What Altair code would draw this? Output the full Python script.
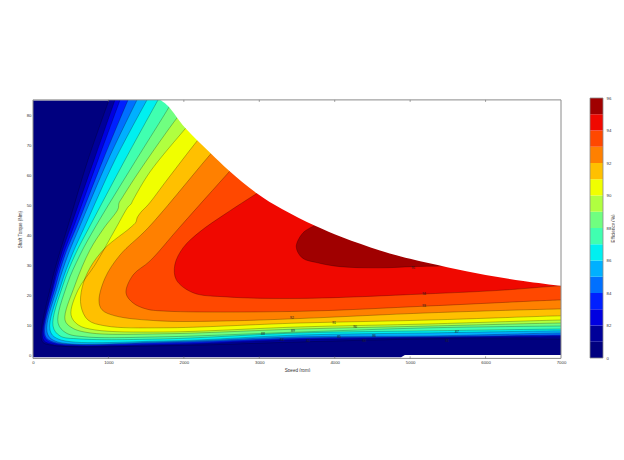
import altair as alt
import pandas as pd

# contour levels, outermost first: (fill colour, speed rpm, torque Nm)
COLORS = ["#000099", "#0000e0", "#0020ff", "#0070ff", "#00b0ff", "#00f0f0", "#40ffb0", "#70ff80",
          "#b0ff40", "#f0ff00", "#ffc000", "#ff8000", "#ff4800", "#f00800", "#a00000"]
S1 = [1008, 729, 464, 345, 239, 119, 225, 1724, 3540, 5264, 7000]
T1 = [85.2, 65.2, 43.2, 33.5, 23.5, 4.8, 3.5, 3.2, 4.5, 5.5, 5.5]
S2 = [1087, 809, 504, 371, 265, 133, 239, 1724, 3540, 5264, 7000]
T2 = [85.2, 65.2, 43.2, 33.5, 23.5, 5.5, 3.8, 3.5, 5.2, 5.8, 6.2]
S3 = [1154, 862, 544, 398, 278, 146, 252, 1724, 3540, 5264, 7000]
T3 = [85.2, 65.2, 43.2, 33.5, 23.5, 6.5, 4.2, 3.8, 5.5, 6.0, 6.5]
S4 = [1260, 928, 583, 424, 305, 159, 265, 1724, 3540, 5264, 7000]
T4 = [85.2, 65.2, 43.2, 33.5, 23.5, 6.8, 4.5, 4.2, 5.8, 6.2, 6.8]
S5 = [1379, 995, 623, 464, 332, 186, 292, 1724, 3540, 5264, 7000]
T5 = [85.2, 65.2, 43.2, 33.5, 23.5, 7.8, 4.8, 4.5, 6.2, 6.5, 7.5]
S6 = [1512, 1087, 690, 517, 371, 225, 332, 1724, 3540, 5264, 7000]
T6 = [85.2, 65.2, 43.2, 33.5, 23.5, 8.5, 5.5, 4.8, 6.8, 7.5, 8.2]
S7 = [1658, 1220, 756, 557, 398, 265, 358, 623, 1724, 3540, 5264, 7000]
T7 = [85.2, 65.2, 43.2, 33.5, 23.5, 9.8, 6.5, 5.5, 5.5, 7.5, 8.2, 8.8]
S8 = [1856, 1803, 1326, 835, 623, 451, 332, 438, 690, 1724, 3540, 5264, 7000]
T8 = [85.2, 82.8, 63.5, 43.2, 33.5, 23.5, 10.8, 7.5, 6.2, 6.2, 7.8, 9.2, 9.8]
S9 = [2042, 1909, 1419, 1180, 1140, 1127, 941, 756, 557, 424, 517, 756, 1724, 3540, 5264, 7000]
T9 = [83.2, 79.2, 61.8, 52.5, 50.8, 48.8, 42.5, 35.2, 23.5, 11.8, 9.2, 7.5, 7.2, 8.8, 9.8, 10.8]
S10 = [2161, 2029, 1551, 1326, 1300, 1260, 1100, 822, 597, 504, 597, 822, 1724, 3540, 5264, 7000]
T10 = [79.8, 75.9, 61.2, 51.8, 50.5, 49.5, 42.5, 30.2, 21.8, 13.5, 10.2, 8.5, 7.8, 9.5, 10.5, 11.8]
S11 = [2307, 2175, 1776, 1525, 1432, 1379, 1366, 1286, 955, 756, 650, 636, 729, 968, 1724, 3540, 5264, 7000]
T11 = [75.5, 71.5, 58.5, 50.2, 47.8, 45.8, 44.5, 42.5, 35.8, 29.2, 22.5, 16.5, 11.8, 9.8, 9.2, 10.8, 11.8, 13.2]
S12 = [2480, 2347, 1525, 1154, 955, 875, 915, 1087, 1684, 2572, 3540, 5264, 7000]
T12 = [70.5, 66.9, 42.5, 33.5, 25.8, 18.2, 15.2, 13.2, 11.5, 11.5, 12.3, 14.2, 15.5]
S13 = [2745, 2600, 1936, 1551, 1326, 1233, 1326, 1498, 1724, 3540, 5264, 7000]
T13 = [65.2, 61.2, 42.5, 31.5, 26.8, 20.8, 17.5, 15.5, 14.8, 14.7, 16.5, 18.5]
S14 = [3100, 2980, 2550, 2210, 1990, 1880, 1900, 2120, 2570, 3540, 5200, 6190, 7000]
T14 = [56.0, 54.2, 47.2, 41.2, 35.9, 30.2, 25.2, 20.9, 19.5, 19.0, 20.5, 21.7, 23.2]
S15 = [3800, 3740, 3580, 3490, 3570, 3770, 4070, 4600, 5040, 5490, 5700]
T15 = [45.0, 43.5, 40.9, 36.2, 32.5, 30.9, 29.6, 29.2, 29.6, 29.9, 30.3]
LEVELS = [(S1, T1), (S2, T2), (S3, T3), (S4, T4), (S5, T5), (S6, T6), (S7, T7), (S8, T8),
          (S9, T9), (S10, T10), (S11, T11), (S12, T12), (S13, T13), (S14, T14), (S15, T15)]

# upper limit of the operating region
ENV_S = [1690, 1790, 2016, 2348, 2600, 2971, 3300, 3740, 4100, 4600, 5000, 5490, 6000, 6500, 7000]
ENV_T = [85.2, 83.2, 75.9, 67.6, 61.6, 54.0, 48.8, 43.2, 39.4, 35.0, 32.2, 29.4, 26.8, 24.8, 23.2]

# base region
BASE_S = [0, 7000, 7000, 4930, 4880, 0]
BASE_T = [85.0, 85.0, 0.1, 0.1, -0.6, -0.6]

# inline contour labels
LAB_S = [5039, 5185, 5185, 3434, 3992, 4270, 3448, 3050, 5622, 4522, 4058, 3302, 4390, 3647, 5490]
LAB_T = [29.2, 20.5, 16.5, 12.5, 10.8, 9.5, 8.2, 7.2, 7.8, 6.5, 6.2, 5.2, 4.8, 4.8, 4.8]
LAB_V = ["95", "94", "93", "92", "91", "90", "89", "88", "87", "86", "85", "84", "83", "82", "81"]

XTICKS = [0, 1000, 2000, 3000, 4000, 5000, 6000, 7000]
YTICKS = [0, 10, 20, 30, 40, 50, 60, 70, 80]
TOP = 85.2
BOTTOM = -1

# colour bar
BAR_LOW = [80, 81, 82, 83, 84, 85, 86, 87, 88, 89, 90, 91, 92, 93, 94, 95]
BAR_HIGH = [81, 82, 83, 84, 85, 86, 87, 88, 89, 90, 91, 92, 93, 94, 95, 96]
BAR_COLORS = ["#00007f"] + COLORS
BAR_TICKS = [80, 82, 84, 86, 88, 90, 92, 94, 96]

FONT = "Liberation Sans"
TXT = "#333333"
FRAME = "#8a8a8a"
H = 261
LABEL_SIZE = 4.3
TITLE_SIZE = 4.6

xs = alt.Scale(domain=[0, 7000], nice=False, zero=False)
ys = alt.Scale(domain=[BOTTOM, TOP], nice=False, zero=False, range=[H - 0.6, 1.9])
X = alt.X("s:Q", scale=xs, axis=alt.Axis(values=XTICKS, tickCount=20, format="d", title="Speed (rpm)", labelFontSize=LABEL_SIZE,
          titleFontSize=TITLE_SIZE, labelColor=TXT, titleColor=TXT, titleFontWeight="normal", labelFont=FONT, titleFont=FONT,
          domain=False, ticks=False, grid=False, labelPadding=1.5, titlePadding=2.5, labelFlush=False, labelOverlap=False))
Y = alt.Y("t:Q", scale=ys, axis=alt.Axis(values=YTICKS, tickCount=20, format="d", title="Shaft Torque (Nm)", labelFontSize=LABEL_SIZE,
          titleFontSize=TITLE_SIZE, labelColor=TXT, titleColor=TXT, titleFontWeight="normal", labelFont=FONT, titleFont=FONT,
          domain=False, ticks=False, grid=False, labelPadding=2, titlePadding=3.5, labelOverlap=False))


def poly(s, t):
    ss = list(s) + [s[-1] + 100, s[-1] + 100, s[0]]
    tt = list(t) + [t[-1], 92, 92]
    return pd.DataFrame({"s": ss, "t": tt, "i": range(len(ss))})


def plain(s, t):
    return pd.DataFrame({"s": list(s), "t": list(t), "i": range(len(s))})


layers = [alt.Chart(plain(BASE_S, BASE_T)).mark_line(fill="#00007f", stroke="#00007f", strokeWidth=0, clip=True)
          .encode(x=X, y=Y, order=alt.Order("i:Q"))]
for (s, t), c in zip(LEVELS, COLORS):
    layers.append(alt.Chart(poly(s, t)).mark_line(fill=c, strokeWidth=0, stroke=c, clip=True, interpolate="catmull-rom")
                  .encode(x="s:Q", y="t:Q", order=alt.Order("i:Q")))
for s, t in LEVELS:
    layers.append(alt.Chart(poly(s, t)).mark_line(stroke="#000000", strokeWidth=0.5, opacity=0.5, clip=True,
                  interpolate="catmull-rom").encode(x="s:Q", y="t:Q", order=alt.Order("i:Q")))
mask = plain(ENV_S + [7100, 7100, 7100, 1690], ENV_T + [23.0, 60, 92, 92])
layers.append(alt.Chart(mask).mark_line(fill="#ffffff", strokeWidth=0, stroke="#ffffff", clip=True, interpolate="catmull-rom")
              .encode(x="s:Q", y="t:Q", order=alt.Order("i:Q")))
# keep the fills inside the frame
strip = plain([0, 7000, 7000, 0], [TOP, TOP, 92, 92])
layers.append(alt.Chart(strip).mark_line(fill="#ffffff", strokeWidth=0, stroke="#ffffff", clip=True)
              .encode(x="s:Q", y="t:Q", order=alt.Order("i:Q")))
layers.append(alt.Chart(pd.DataFrame({"s": LAB_S, "t": LAB_T, "v": LAB_V})).mark_text(fontSize=3.5, font=FONT, color="#222222")
              .encode(x="s:Q", y="t:Q", text="v:N"))
# frame and inward ticks
frame = pd.DataFrame({"s": [0, 7000, 7000, 0, 0], "t": [TOP, TOP, BOTTOM, BOTTOM, TOP], "i": range(5)})
layers.append(alt.Chart(frame).mark_line(stroke=FRAME, strokeWidth=1).encode(x="s:Q", y="t:Q", order=alt.Order("i:Q")))
tick_df = pd.DataFrame({"s": XTICKS[1:-1]})
layers.append(alt.Chart(tick_df).mark_rule(stroke="#555555", strokeWidth=0.5).encode(x="s:Q", y=alt.datum(TOP), y2=alt.datum(84.5)))
layers.append(alt.Chart(tick_df).mark_rule(stroke="#555555", strokeWidth=0.5).encode(x="s:Q", y=alt.datum(BOTTOM), y2=alt.datum(-0.3)))

main = alt.layer(*layers).properties(width=528, height=H)

bar_df = pd.DataFrame({"lo": BAR_LOW, "hi": BAR_HIGH, "c": BAR_COLORS})
by = alt.Y("lo:Q", scale=alt.Scale(domain=[80, 96], nice=False, zero=False, range=[260, 0]),
           axis=alt.Axis(orient="right", values=BAR_TICKS, tickCount=20, title="Efficiency (%)", titleAngle=270, labelFontSize=LABEL_SIZE,
                         titleFontSize=TITLE_SIZE, labelColor=TXT, titleColor=TXT, titleFontWeight="normal", labelFont=FONT,
                         titleFont=FONT, domain=False, ticks=False, grid=False, labelPadding=3, titlePadding=4.5,
                         labelOverlap=False, labelExpr="datum.value == 80 ? '0' : datum.label"))
bar = alt.Chart(bar_df).mark_rect().encode(y=by, y2="hi:Q", x=alt.value(0), x2=alt.value(13),
                                           fill=alt.Fill("c:N", scale=None))
edge = alt.Chart(pd.DataFrame({"lo": [80], "hi": [96]})).mark_rect(fill=None, stroke=FRAME, strokeWidth=0.8).encode(
    y="lo:Q", y2="hi:Q", x=alt.value(0), x2=alt.value(13))
cbar = alt.layer(bar, edge).properties(width=13, height=H)

chart = alt.hconcat(main, cbar, spacing=29, bounds="flush").properties(
    padding={"left": 9, "top": 88, "right": 0, "bottom": 0}
).configure_view(stroke=None)

chart.save("out.html", embed_options={"renderer": "svg", "actions": False})
